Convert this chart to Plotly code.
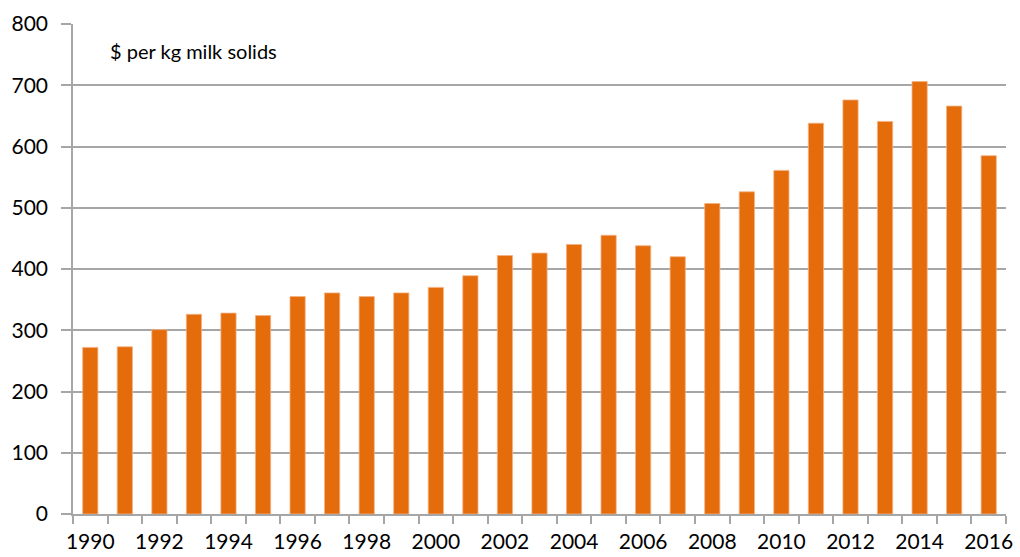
import plotly.graph_objects as go

years = list(range(1990, 2017))
values = [272, 273, 301, 326, 328, 324, 355, 361, 355, 361, 370, 389, 422, 426, 440,
          455, 438, 420, 507, 526, 561, 638, 676, 641, 706, 666, 585]
label_years = list(range(1990, 2017, 2))
y_ticks = list(range(0, 801, 100))

BAR = "#E46C0A"
GRID = "#A6A6A6"
FONT = "Lato, 'Open Sans', sans-serif"

fig = go.Figure(go.Bar(
    x=years, y=values, width=0.44,
    marker=dict(color=BAR, line=dict(color="#F4B183", width=0.8)),
))

fig.update_layout(
    width=1020, height=557,
    margin=dict(l=73, r=14, t=24, b=43),
    paper_bgcolor="white", plot_bgcolor="white",
    font=dict(family=FONT, size=20, color="#000000"),
    showlegend=False,
    annotations=[dict(text="$ per kg milk solids", xref="paper", yref="paper",
                      x=0.038, y=0.945, xanchor="left", yanchor="middle",
                      showarrow=False, font=dict(size=20, family=FONT))],
)
fig.update_xaxes(
    range=[1989.5, 2016.5], tickmode="array", tickvals=label_years,
    ticktext=[str(y) for y in label_years], ticks="", showgrid=False,
    showline=True, linecolor=GRID, linewidth=1.5,
    minor=dict(tickvals=[y - 0.5 for y in years] + [2016.5], ticks="outside",
               ticklen=8, tickcolor=GRID, tickwidth=1.5, showgrid=False),
    tickfont=dict(size=21), ticklabelstandoff=8, zeroline=False, automargin=False,
)
fig.update_yaxes(
    range=[0, 800], tickvals=y_ticks, showgrid=True, gridcolor=GRID, gridwidth=1.5,
    showline=True, linecolor=GRID, linewidth=1.5, ticks="outside", ticklen=10,
    tickcolor=GRID, tickwidth=1.5, tickfont=dict(size=21), ticklabelstandoff=9,
    zeroline=False, automargin=False,
)

fig.write_html("out.html")
